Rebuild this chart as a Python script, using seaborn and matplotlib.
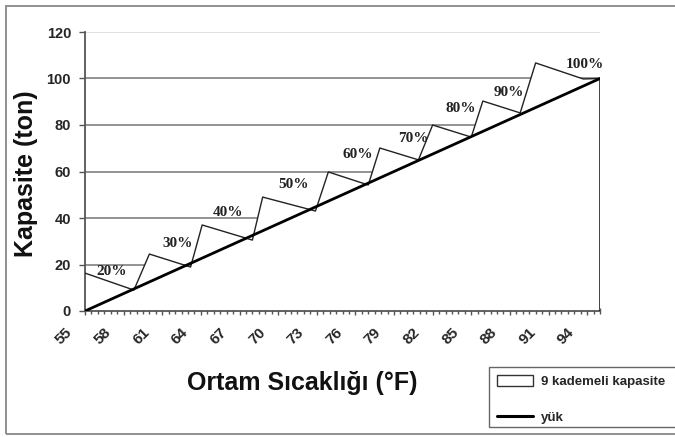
import matplotlib
matplotlib.use("Agg")
import matplotlib.pyplot as plt
import matplotlib.patches as mpatches
import matplotlib.transforms as mtrans
from matplotlib.lines import Line2D
from matplotlib.ticker import MultipleLocator
import seaborn as sns
import pandas as pd

# ---- data ----
cap_temp = [55.0, 58.8, 60.0, 63.2, 64.1, 68.0, 68.8, 72.9, 73.9, 77.0, 77.9,
            80.9, 82.0, 85.0, 85.9, 88.8, 90.0, 93.7, 95.0]
cap_value = [16.3, 9.0, 24.5, 18.9, 37.0, 30.5, 49.0, 43.0, 59.8, 54.2, 70.1,
             65.0, 80.0, 74.8, 90.3, 85.2, 106.7, 99.8, 100.0]
load_temp = [55.0, 95.0]
load_value = [0.0, 100.0]

stage_labels = ["20%", "30%", "40%", "50%", "60%", "70%", "80%", "90%", "100%"]
stage_x = [57.1, 62.2, 66.1, 71.2, 76.2, 80.5, 84.2, 87.9, 93.8]
stage_y = [16.8, 29.2, 42.2, 54.2, 67.5, 74.0, 86.9, 93.8, 106.2]

x_ticks = [55, 58, 61, 64, 67, 70, 73, 76, 79, 82, 85, 88, 91, 94]
y_ticks = [0, 20, 40, 60, 80, 100, 120]

series_names = ["9 kademeli kapasite", "yük"]

cap_df = pd.DataFrame({"temp": cap_temp, "cap": cap_value})
load_df = pd.DataFrame({"temp": load_temp, "load": load_value})

sns.set_style("white")
plt.rcParams["font.family"] = ["Liberation Sans", "DejaVu Sans"]

fig = plt.figure(figsize=(6.75, 4.37), dpi=100)
ax = fig.add_axes([85 / 675, 1 - 311 / 437, 515 / 675, 279 / 437])

ax.set_xlim(55, 95)
ax.set_ylim(0, 120)

# gridlines
ax.set_yticks(y_ticks)
ax.yaxis.grid(True, color="#8a8a8a", linewidth=1.3, zorder=0)
ax.set_axisbelow(True)

# white area with black edge (covers gridlines)
ax.fill_between(cap_df["temp"], 0, cap_df["cap"], facecolor="white",
                edgecolor="none", zorder=2)
sns.lineplot(data=cap_df, x="temp", y="cap", ax=ax, color="#222222",
             linewidth=1.0, sort=False, zorder=3, estimator=None)
ax.vlines(cap_temp[-1], 0, cap_value[-1], color="#222222", linewidth=1.2, zorder=3)

# load line
sns.lineplot(data=load_df, x="temp", y="load", ax=ax, color="black",
             linewidth=2.0, zorder=4, estimator=None)

for lab, xx, yy in zip(stage_labels, stage_x, stage_y):
    ax.text(xx, yy, lab, ha="center", va="center", fontsize=11,
            fontweight="bold", family="Liberation Serif", color="#222222", zorder=5)

# axes styling
for s in ["top", "right"]:
    ax.spines[s].set_visible(False)
ax.spines["left"].set_color("#555555")
ax.spines["left"].set_linewidth(1.3)
ax.spines["bottom"].set_color("#555555")
ax.spines["bottom"].set_linewidth(1.3)

ax.set_xticks(x_ticks)
ax.set_xticklabels([str(t) for t in x_ticks], rotation=45, ha="right",
                   rotation_mode="anchor", fontsize=11, fontweight="bold")
ax.xaxis.set_minor_locator(MultipleLocator(0.5))
ax.tick_params(axis="x", which="both", direction="inout", length=6, width=1.0,
               color="#555555", bottom=True, pad=7)
ax.tick_params(axis="x", which="minor", length=4)
shift = mtrans.ScaledTranslation(-20 / 100, 0, fig.dpi_scale_trans)
for lbl in ax.get_xticklabels():
    lbl.set_transform(lbl.get_transform() + shift)
ax.set_yticklabels([str(t) for t in y_ticks], fontsize=10.5, fontweight="bold")
ax.tick_params(axis="y", direction="out", length=4, width=1.0, color="#555555",
               left=True, pad=6)
ax.set_xlabel("")
ax.set_ylabel("")

# lighter top gridline
gl = ax.get_ygridlines()
gl[-1].set_color("#dddddd")

fig.text(26 / 675, 1 - 174 / 437, "Kapasite (ton)", rotation=90, ha="center",
         va="center", fontsize=18, fontweight="bold", color="#111111")
fig.text(302 / 675, 1 - 383 / 437, "Ortam Sıcaklığı (°F)", ha="center",
         va="center", fontsize=18, fontweight="bold", color="#111111")

# legend (frame drawn separately)
fig.patches.append(mpatches.Rectangle((489 / 675, 1 - 427 / 437), 0.3, 60 / 437,
                                      transform=fig.transFigure, facecolor="white",
                                      edgecolor="#666666", linewidth=1.0, zorder=1))
handles = [mpatches.Patch(facecolor="white", edgecolor="#333333", linewidth=1.0),
           Line2D([0], [0], color="black", linewidth=2.2)]
leg = fig.legend(handles, series_names, loc="upper left",
                 bbox_to_anchor=(497 / 675, 1 - 375 / 437),
                 frameon=False, prop={"size": 9.5, "weight": "bold"},
                 handlelength=2.7, handleheight=0.85, borderaxespad=0,
                 labelspacing=1.75, borderpad=0, handletextpad=0.6)
leg.set_zorder(3)

# outer frame
fig.patches.append(mpatches.Rectangle((6 / 675, 1 - 434 / 437), 1.0, 428 / 437,
                                      transform=fig.transFigure, fill=False,
                                      edgecolor="#888888", linewidth=1.3))

fig.savefig("out.png", dpi=100)
